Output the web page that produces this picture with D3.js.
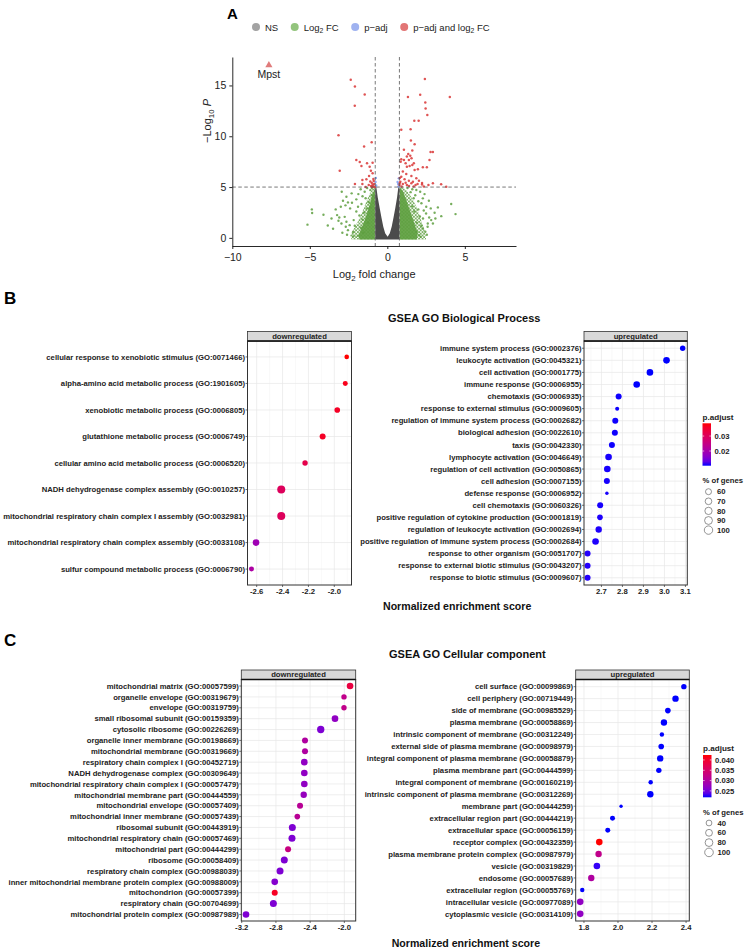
<!DOCTYPE html>
<html><head><meta charset="utf-8">
<script src="https://cdn.jsdelivr.net/npm/d3@7"></script>
<style>body{margin:0;background:#fff;} svg{display:block;}</style>
</head><body><svg id="c" width="746" height="948"></svg>
<script>
// ---------------- DATA ----------------
// Panel A: volcano plot (log2FC, -log10 P)
const volcanoXTicks = [-10, -5, 0, 5];
const volcanoYTicks = [0, 5, 10, 15];
const fcCut = 0.78, pCut = 5;
const highlightGene = {label: "Mpst", x: -7.64, y: 17.0};
const legendA = [
  {key: "NS", parts: [["NS"]]},
  {key: "FC", parts: [["Log"], ["2", "sub"], [" FC"]]},
  {key: "P", parts: [["p\u2212adj"]]},
  {key: "FCP", parts: [["p\u2212adj and log"], ["2", "sub"], [" FC"]]}
];
// dense non-significant cloud (outline of the V)
const nsCloud = [[-0.78,-0.15],[-0.78,5.0],[-0.72,5.1],[-0.62,4.0],[-0.5,3.0],[-0.38,2.0],[-0.26,1.1],[-0.14,0.45],[0.02,0.12],[0.16,0.45],[0.28,1.1],[0.4,2.0],[0.52,3.0],[0.63,4.0],[0.72,5.1],[0.78,5.0],[0.78,-0.15]];
// dense fold-change-only clouds: solid cores and stippled outer parts
const fcCoreLeft = [[-0.8,-0.15],[-0.8,4.9],[-0.95,4.3],[-1.15,3.2],[-1.4,2.0],[-1.65,1.0],[-1.85,0.3],[-1.8,-0.15]];
const fcCoreRight = [[0.8,-0.15],[0.8,5.0],[1.0,4.6],[1.25,3.6],[1.5,2.5],[1.75,1.4],[1.95,0.5],[1.9,-0.15]];
const fcCloudLeft = [[-0.8,-0.15],[-0.8,5.0],[-0.95,4.85],[-1.15,4.3],[-1.35,3.6],[-1.6,2.6],[-1.9,1.6],[-2.2,0.8],[-2.4,0.2],[-2.3,-0.15]];
const fcCloudRight = [[0.8,-0.15],[0.8,5.0],[1.0,4.95],[1.3,4.6],[1.6,3.9],[1.9,3.0],[2.1,2.1],[2.3,1.2],[2.45,0.5],[2.5,-0.15]];
const fcPoints = [[-5.15,1.3],[-4.87,2.8],[-4.85,2.45],[-4.12,2.27],[-3.84,1.22],[-3.33,2.8],[-3.0,3.06],[-2.86,3.65],[-2.54,3.49],[-2.28,3.46],[-2.94,4.54],[-2.64,4.05],[-2.3,4.38],[-1.87,4.31],[-2.0,3.79],[-1.72,4.78],[-1.46,4.54],[-3.24,2.24],[-2.75,2.07],[-3.15,1.68],[-2.96,1.42],[-2.64,1.58],[-2.68,1.09],[-2.43,1.25],[-2.21,0.59],[-2.54,0.76],[-2.17,1.75],[-1.89,3.06],[-1.67,3.33],[-1.4,3.9],[-1.3,4.9],[-1.1,4.7],[-2.0,2.6],[-1.8,2.2],[-2.4,2.9],[-3.6,1.9],[-3.5,0.9],[-2.9,0.5],[-2.6,0.3],[-1.9,0.2],[-2.2,0.15],[-1.6,1.8],[-1.3,2.9],[-1.5,2.5],[-1.2,3.5],[-1.0,4.2],[-1.1,3.0],[-1.25,1.5],[-1.7,1.0],[-2.1,1.2],[-1.55,0.5],[-1.0,4.9],[-1.6,4.1],[-2.7,3.2],[-3.1,2.0],
  [2.12,4.54],[2.4,4.31],[2.68,3.65],[3.26,3.0],[4.12,3.33],[4.4,2.34],[3.48,2.14],[3.05,2.47],[2.83,1.75],[2.61,1.42],[2.94,1.42],[2.29,0.93],[2.04,0.27],[2.51,3.06],[2.29,3.89],[1.87,4.71],[1.61,4.78],[2.2,3.4],[2.0,2.8],[2.5,2.4],[2.7,2.0],[2.3,1.9],[2.2,1.2],[2.45,0.6],[1.9,0.6],[2.6,1.1],[1.8,4.2],[2.0,3.6],[1.7,3.9],[1.5,4.5],[1.3,4.9],[2.35,2.7],[2.8,2.9],[3.1,1.9],[1.9,1.5],[2.1,2.1],[2.55,0.3],[2.15,0.1],[1.6,3.1],[1.75,2.6]];
const pPoints = [[-0.76,5.5],[-0.72,5.15],[-0.74,5.9],[0.74,5.86],[0.7,5.3],[0.72,5.05],[0.66,5.5]];
const sigPoints = [[-2.36,15.55],[-2.09,14.9],[-1.46,14.1],[-2.1,13.0],[-3.15,10.1],[-1.01,9.4],[-1.5,9.0],[-2.0,7.67],[-1.78,7.47],[-1.67,7.08],[-1.31,7.34],[-0.95,7.4],[-1.14,7.0],[-3.07,6.6],[-1.06,6.6],[-1.18,6.1],[-0.95,6.36],[-1.61,5.7],[-1.35,5.76],[-2.09,5.3],[-1.61,5.3],[-0.9,5.05],[-0.95,5.2],[-1.0,5.4],[-1.05,5.1],[-0.88,5.6],[-1.1,5.55],[-0.85,5.3],[-0.82,5.0],[-0.9,5.8],[-1.2,5.2],[-1.4,5.0],[-0.98,5.0],
  [2.42,15.64],[1.33,13.86],[2.12,14.09],[4.03,13.86],[2.45,13.33],[2.47,12.74],[2.58,12.1],[1.74,11.52],[2.02,11.52],[0.9,10.63],[1.5,10.7],[1.52,9.58],[1.76,9.22],[2.79,8.46],[2.94,8.46],[1.61,8.59],[1.07,8.66],[2.29,6.95],[2.55,6.95],[2.94,5.37],[3.47,5.27],[3.8,5.03],[2.24,5.25],[2.65,5.2],
  [1.35,8.26],[1.48,8.07],[1.26,8.0],[1.56,7.84],[0.9,7.74],[1.07,7.67],[1.39,7.67],[0.86,7.5],[1.18,7.34],[1.71,7.34],[2.72,7.67],[1.97,6.75],[1.76,6.68],[1.26,7.0],[1.44,7.08],[1.61,7.18],
  [1.0,6.52],[1.22,6.29],[1.55,6.09],[1.87,5.86],[0.9,6.02],[1.11,5.76],[1.39,5.63],[1.65,5.53],[2.04,5.63],[0.84,5.53],[1.0,5.3],[1.26,5.2],[1.55,5.37],[1.82,5.2],[0.79,5.2],[0.92,5.05],[1.18,5.43],[1.4,5.1],[1.95,5.3],[2.24,5.4],[2.35,5.05],[1.7,5.05],[0.8,5.4],[0.8,5.9]];

// Panel B: GSEA GO Biological Process
const bpDownTerms = ["cellular response to xenobiotic stimulus (GO:0071466)","alpha-amino acid metabolic process (GO:1901605)","xenobiotic metabolic process (GO:0006805)","glutathione metabolic process (GO:0006749)","cellular amino acid metabolic process (GO:0006520)","NADH dehydrogenase complex assembly (GO:0010257)","mitochondrial respiratory chain complex I assembly (GO:0032981)","mitochondrial respiratory chain complex assembly (GO:0033108)","sulfur compound metabolic process (GO:0006790)"];
const bpDownNES = [-1.904,-1.915,-1.977,-2.09,-2.226,-2.41,-2.41,-2.605,-2.64];
const bpDownPct = [43,47,55,60,52,93,93,69,47];
const bpDownPadj = [0.0385,0.037,0.036,0.036,0.032,0.030,0.030,0.019,0.021];
const bpDownTicks = [-2.6,-2.4,-2.2,-2.0];

const bpUpTerms = ["immune system process (GO:0002376)","leukocyte activation (GO:0045321)","cell activation (GO:0001775)","immune response (GO:0006955)","chemotaxis (GO:0006935)","response to external stimulus (GO:0009605)","regulation of immune system process (GO:0002682)","biological adhesion (GO:0022610)","taxis (GO:0042330)","lymphocyte activation (GO:0046649)","regulation of cell activation (GO:0050865)","cell adhesion (GO:0007155)","defense response (GO:0006952)","cell chemotaxis (GO:0060326)","positive regulation of cytokine production (GO:0001819)","regulation of leukocyte activation (GO:0002694)","positive regulation of immune system process (GO:0002684)","response to other organism (GO:0051707)","response to external biotic stimulus (GO:0043207)","response to biotic stimulus (GO:0009607)"];
const bpUpNES = [3.087,3.01,2.931,2.868,2.782,2.775,2.766,2.764,2.75,2.734,2.728,2.726,2.726,2.694,2.693,2.687,2.672,2.634,2.634,2.634];
const bpUpPct = [52,69,69,69,60,37,60,60,60,69,69,60,32,60,55,66,69,60,60,60];
const bpUpPadj = [0.0102,0.0102,0.0102,0.0102,0.0103,0.0103,0.0103,0.0103,0.0103,0.0104,0.0104,0.0104,0.0104,0.0104,0.0105,0.0105,0.0105,0.0106,0.0106,0.0106];
const bpUpTicks = [2.7,2.8,2.9,3.0,3.1];
const bpPadjBreaks = [0.02, 0.03];
const bpPctBreaks = [60,70,80,90,100];

// Panel C: GSEA GO Cellular component
const ccDownTerms = ["mitochondrial matrix (GO:00057599)","organelle envelope (GO:00319679)","envelope (GO:00319759)","small ribosomal subunit (GO:00159359)","cytosolic ribosome (GO:00226269)","organelle inner membrane (GO:00198669)","mitochondrial membrane (GO:00319669)","respiratory chain complex I (GO:00452719)","NADH dehydrogenase complex (GO:00309649)","mitochondrial respiratory chain complex I (GO:00057479)","mitochondrial membrane part (GO:00444559)","mitochondrial envelope (GO:00057409)","mitochondrial inner membrane (GO:00057439)","ribosomal subunit (GO:00443919)","mitochondrial respiratory chain (GO:00057469)","mitochondrial part (GO:00444299)","ribosome (GO:00058409)","respiratory chain complex (GO:00988039)","inner mitochondrial membrane protein complex (GO:00988009)","mitochondrion (GO:00057399)","respiratory chain (GO:00704699)","mitochondrial protein complex (GO:00987989)"];
const ccDownNES = [-1.933,-2.004,-2.004,-2.109,-2.276,-2.46,-2.46,-2.468,-2.468,-2.468,-2.475,-2.518,-2.55,-2.608,-2.612,-2.658,-2.702,-2.752,-2.814,-2.814,-2.83,-3.15];
const ccDownPct = [55,33,33,55,71,44,44,55,55,55,51,44,37,63,63,44,63,63,55,44,63,55];
const ccDownPadj = [0.0385,0.032,0.032,0.027,0.0256,0.030,0.030,0.027,0.027,0.027,0.0275,0.031,0.031,0.0256,0.0256,0.033,0.0256,0.0256,0.026,0.0408,0.0256,0.0256];
const ccDownTicks = [-3.2,-2.8,-2.4,-2.0];

const ccUpTerms = ["cell surface (GO:00099869)","cell periphery (GO:00719449)","side of membrane (GO:00985529)","plasma membrane (GO:00058869)","intrinsic component of membrane (GO:00312249)","external side of plasma membrane (GO:00098979)","integral component of plasma membrane (GO:00058879)","plasma membrane part (GO:00444599)","integral component of membrane (GO:00160219)","intrinsic component of plasma membrane (GO:00312269)","membrane part (GO:00444259)","extracellular region part (GO:00444219)","extracellular space (GO:00056159)","receptor complex (GO:00432359)","plasma membrane protein complex (GO:00987979)","vesicle (GO:00319829)","endosome (GO:00057689)","extracellular region (GO:00055769)","intracellular vesicle (GO:00977089)","cytoplasmic vesicle (GO:00314109)"];
const ccUpNES = [2.387,2.338,2.293,2.27,2.258,2.254,2.248,2.24,2.192,2.19,2.018,1.968,1.94,1.89,1.886,1.876,1.843,1.79,1.778,1.778];
const ccUpPct = [33,51,37,51,19,37,51,33,19,51,7,27,27,55,51,55,51,19,55,55];
const ccUpPadj = [0.0219,0.0219,0.0219,0.0219,0.0219,0.0219,0.0219,0.0219,0.0219,0.0219,0.0219,0.0219,0.0219,0.0424,0.032,0.0225,0.030,0.0219,0.027,0.027];
const ccUpTicks = [1.8,2.0,2.2,2.4];
const ccPadjBreaks = [0.025,0.030,0.035,0.040];
const ccPctBreaks = [40,60,80,100];

// ---------------- DRAW ----------------
const FONT = '"Liberation Sans", Arial, Helvetica, sans-serif';
const FS = 7.7; // facet text size
const svg = d3.select("#c").style("font-family", FONT);
svg.append("rect").attr("width", 746).attr("height", 948).attr("fill", "#fff");
const defs = svg.append("defs");

function rich(sel, parts, fs) {
  let shifted = 0;
  parts.forEach(p => {
    const t = sel.append("tspan").text(p[0]);
    if (p[1] === "sub") { t.attr("font-size", fs * 0.72).attr("dy", fs * 0.28); shifted = fs * 0.28; }
    else if (shifted) { t.attr("dy", -shifted); shifted = 0; }
    if (p[1] === "it") t.attr("font-style", "italic");
  });
  return sel;
}

// ===== Panel A =====
const gA = svg.append("g");
gA.append("text").attr("x", 227).attr("y", 19).attr("font-size", 15).attr("font-weight", "bold").text("A");

const xA = d3.scaleLinear().domain([-10, 8.3]).range([232.3, 516]);
const yA = d3.scaleLinear().domain([-0.8, 17.8]).range([246, 57]);
const lineA = d3.line().x(d => xA(d[0])).y(d => yA(d[1])).curve(d3.curveLinearClosed);

const colNS = "#4b4b4b", colFC = "#5e9f40", colP = "#7f9ef0", colSig = "#d93636";
const pat = defs.append("pattern").attr("id", "stipple").attr("patternUnits", "userSpaceOnUse").attr("width", 3.4).attr("height", 3.4);
pat.append("circle").attr("cx", 0.9).attr("cy", 0.9).attr("r", 1.05).attr("fill", colFC).attr("opacity", 0.85);
pat.append("circle").attr("cx", 2.6).attr("cy", 2.6).attr("r", 1.05).attr("fill", colFC).attr("opacity", 0.85);
[fcCloudLeft, fcCloudRight].forEach(c => gA.append("path").attr("d", lineA(c)).attr("fill", "url(#stipple)"));
[fcCoreLeft, fcCoreRight].forEach(c => gA.append("path").attr("d", lineA(c)).attr("fill", colFC).attr("opacity", 0.92));
gA.append("path").attr("d", lineA(nsCloud)).attr("fill", colNS);
gA.append("g").selectAll("circle").data(fcPoints).join("circle")
  .attr("cx", d => xA(d[0])).attr("cy", d => yA(d[1])).attr("r", 1.2).attr("fill", colFC).attr("opacity", 0.85);
gA.append("g").selectAll("circle").data(pPoints).join("circle")
  .attr("cx", d => xA(d[0])).attr("cy", d => yA(d[1])).attr("r", 1.2).attr("fill", colP).attr("opacity", 0.9);
gA.append("g").selectAll("circle").data(sigPoints).join("circle")
  .attr("cx", d => xA(d[0])).attr("cy", d => yA(d[1])).attr("r", 1.25).attr("fill", colSig).attr("opacity", 0.85);

// cut-off lines
const dash = gA.append("g").attr("stroke", "#555").attr("stroke-width", 0.8).attr("stroke-dasharray", "3.5,2.5");
[-fcCut, fcCut].forEach(v => dash.append("line").attr("x1", xA(v)).attr("x2", xA(v)).attr("y1", yA.range()[1]).attr("y2", yA.range()[0]));
dash.append("line").attr("x1", xA.range()[0]).attr("x2", xA.range()[1]).attr("y1", yA(pCut)).attr("y2", yA(pCut));

// highlighted gene
gA.append("path").attr("d", d3.symbol(d3.symbolTriangle, 22)())
  .attr("transform", `translate(${xA(highlightGene.x)},${yA(highlightGene.y)})`).attr("fill", "#e07b7b");
gA.append("text").attr("x", xA(highlightGene.x)).attr("y", yA(highlightGene.y) + 13).attr("text-anchor", "middle")
  .attr("font-size", 10.5).attr("fill", "#222").text(highlightGene.label);

// axes
const axL = gA.append("g").attr("transform", `translate(${xA.range()[0]},0)`)
  .call(d3.axisLeft(yA).tickValues(volcanoYTicks).tickSize(3).tickSizeOuter(0));
const axB = gA.append("g").attr("transform", `translate(0,${yA.range()[0]})`)
  .call(d3.axisBottom(xA).tickValues(volcanoXTicks).tickSize(3).tickSizeOuter(0));
[axL, axB].forEach(a => {
  a.select(".domain").attr("stroke", "#111").attr("stroke-width", 0.9);
  a.selectAll(".tick line").attr("stroke", "#111").attr("stroke-width", 0.9);
  a.selectAll(".tick text").attr("font-size", 10.5).attr("fill", "#222").attr("font-family", FONT);
});
axB.selectAll(".tick text").attr("dy", "0.9em");
rich(gA.append("text").attr("x", (xA.range()[0] + xA.range()[1]) / 2).attr("y", 278).attr("text-anchor", "middle")
  .attr("font-size", 11).attr("fill", "#222"), [["Log"], ["2", "sub"], [" fold change"]], 11);
rich(gA.append("text").attr("transform", "translate(211,121) rotate(-90)").attr("text-anchor", "middle")
  .attr("font-size", 11).attr("fill", "#222"), [["\u2212Log"], ["10", "sub"], [" "], ["P", "it"]], 11);

// legend A
const legCol = {NS: "#a3a3a3", FC: "#93c47d", P: "#9fb2f0", FCP: "#e27575"};
let lx = 256;
legendA.forEach(it => {
  gA.append("circle").attr("cx", lx).attr("cy", 27).attr("r", 4).attr("fill", legCol[it.key]);
  const t = rich(gA.append("text").attr("x", lx + 9).attr("y", 30.5).attr("font-size", 9.5).attr("fill", "#222"), it.parts, 9.5);
  lx += 9 + t.node().getComputedTextLength() + 16.5;
});

// ===== Dot-plot facets =====
function facet(cfg) {
  const g = svg.append("g");
  const [x0, x1] = cfg.xRange;
  const x = d3.scaleLinear().domain(cfg.xDomain).range(cfg.xRange);
  const y = d3.scalePoint().domain(cfg.terms).range([cfg.top, cfg.bottom]).padding(0.6);
  const step = cfg.ticks[1] - cfg.ticks[0];
  const minor = [cfg.ticks[0] - step / 2].concat(cfg.ticks.map(t => t + step / 2))
    .filter(v => v > cfg.xDomain[0] && v < cfg.xDomain[1]);
  g.append("g").selectAll("line").data(minor).join("line")
    .attr("x1", d => x(d)).attr("x2", d => x(d)).attr("y1", cfg.top).attr("y2", cfg.bottom)
    .attr("stroke", "#f3f3f3").attr("stroke-width", 0.5);
  g.append("g").selectAll("line").data(cfg.ticks).join("line")
    .attr("x1", d => x(d)).attr("x2", d => x(d)).attr("y1", cfg.top).attr("y2", cfg.bottom)
    .attr("stroke", "#e6e6e6").attr("stroke-width", 0.7);
  g.append("g").selectAll("line").data(cfg.terms).join("line")
    .attr("x1", x0).attr("x2", x1).attr("y1", d => y(d)).attr("y2", d => y(d))
    .attr("stroke", "#e6e6e6").attr("stroke-width", 0.7);
  const rows = cfg.terms.map((t, i) => ({t, nes: cfg.nes[i], pct: cfg.pct[i], padj: cfg.padj[i]}));
  g.append("g").selectAll("circle").data(rows).join("circle")
    .attr("cx", d => x(d.nes)).attr("cy", d => y(d.t)).attr("r", d => cfg.size(d.pct))
    .attr("fill", d => cfg.color(d.padj));
  g.append("rect").attr("x", x0).attr("y", cfg.top).attr("width", x1 - x0).attr("height", cfg.bottom - cfg.top)
    .attr("fill", "none").attr("stroke", "#333").attr("stroke-width", 1);
  // strip
  g.append("rect").attr("x", x0).attr("y", cfg.stripTop).attr("width", x1 - x0).attr("height", cfg.top - cfg.stripTop)
    .attr("fill", "#d9d9d9").attr("stroke", "#333").attr("stroke-width", 0.8);
  g.append("line").attr("x1", x0).attr("x2", x1).attr("y1", cfg.top).attr("y2", cfg.top).attr("stroke", "#111").attr("stroke-width", 1.6);
  g.append("text").attr("x", (x0 + x1) / 2).attr("y", cfg.stripTop + 7.2).attr("text-anchor", "middle")
    .attr("font-size", FS).attr("font-weight", "bold").attr("fill", "#222").text(cfg.strip);
  // y ticks + labels
  g.append("g").selectAll("line").data(cfg.terms).join("line")
    .attr("x1", x0 - 2).attr("x2", x0).attr("y1", d => y(d)).attr("y2", d => y(d)).attr("stroke", "#333").attr("stroke-width", 0.7);
  g.append("g").selectAll("text").data(cfg.terms).join("text")
    .attr("x", x0 - 2.5).attr("y", d => y(d)).attr("dy", "0.35em").attr("text-anchor", "end")
    .attr("font-size", FS).attr("font-weight", "bold").attr("fill", "#222").text(d => d);
  // x ticks + labels
  g.append("g").selectAll("line").data(cfg.ticks).join("line")
    .attr("x1", d => x(d)).attr("x2", d => x(d)).attr("y1", cfg.bottom).attr("y2", cfg.bottom + 2).attr("stroke", "#333").attr("stroke-width", 0.7);
  g.append("g").selectAll("text").data(cfg.ticks).join("text")
    .attr("x", d => x(d)).attr("y", cfg.bottom + 8.8).attr("text-anchor", "middle")
    .attr("font-size", FS).attr("font-weight", "bold").attr("fill", "#222").text(d => d.toFixed(1));
}

function legendBlock(cfg) {
  const g = svg.append("g");
  g.append("text").attr("x", cfg.x).attr("y", cfg.titleY).attr("font-size", 8.1).attr("font-weight", "bold").attr("fill", "#222").text("p.adjust");
  const id = "grad" + cfg.id;
  const grad = defs.append("linearGradient").attr("id", id).attr("x1", 0).attr("x2", 0).attr("y1", 1).attr("y2", 0);
  d3.range(0, 1.001, 0.1).forEach(t => grad.append("stop").attr("offset", t)
    .attr("stop-color", cfg.color(cfg.color.domain()[0] + t * (cfg.color.domain()[1] - cfg.color.domain()[0]))));
  const yb = d3.scaleLinear().domain(cfg.color.domain()).range([cfg.barBottom, cfg.barTop]);
  g.append("rect").attr("x", cfg.x).attr("y", cfg.barTop).attr("width", 8.5).attr("height", cfg.barBottom - cfg.barTop).attr("fill", `url(#${id})`);
  cfg.padjBreaks.forEach(b => {
    g.append("line").attr("x1", cfg.x).attr("x2", cfg.x + 1.7).attr("y1", yb(b)).attr("y2", yb(b)).attr("stroke", "#fff").attr("stroke-width", 0.6);
    g.append("line").attr("x1", cfg.x + 6.8).attr("x2", cfg.x + 8.5).attr("y1", yb(b)).attr("y2", yb(b)).attr("stroke", "#fff").attr("stroke-width", 0.6);
    g.append("text").attr("x", cfg.x + 12).attr("y", yb(b)).attr("dy", "0.35em").attr("font-size", FS).attr("font-weight", "bold").attr("fill", "#222")
      .text(cfg.padjFmt(b));
  });
  g.append("text").attr("x", cfg.x).attr("y", cfg.sizeTitleY).attr("font-size", 7.7).attr("font-weight", "bold").attr("fill", "#222").text("% of genes");
  cfg.pctBreaks.forEach((b, i) => {
    const cy = cfg.sizeY0 + i * cfg.sizeStep;
    g.append("circle").attr("cx", cfg.x + 6).attr("cy", cy).attr("r", cfg.size(b)).attr("fill", "#fff").attr("stroke", "#666").attr("stroke-width", 0.7);
    g.append("text").attr("x", cfg.x + 14.5).attr("y", cy).attr("dy", "0.35em").attr("font-size", FS).attr("font-weight", "bold").attr("fill", "#222").text(b);
  });
}

// ===== Panel B =====
svg.append("text").attr("x", 4).attr("y", 304).attr("font-size", 17).attr("font-weight", "bold").text("B");
svg.append("text").attr("x", 388).attr("y", 321.5).attr("font-size", 11).attr("font-weight", "bold").attr("fill", "#111").text("GSEA GO Biological Process");
svg.append("text").attr("x", 383).attr("y", 609.5).attr("font-size", 10.6).attr("font-weight", "bold").attr("fill", "#111").text("Normalized enrichment score");

const colB = d3.scaleLinear().domain([0.0102, 0.0385]).range(["blue", "red"]).interpolate(d3.interpolateLab);
const areaB = d3.scaleLinear().domain([20, 100]).range([0.4, 17.64]);
const sizeB = v => Math.sqrt(areaB(v));
facet({terms: bpDownTerms, nes: bpDownNES, pct: bpDownPct, padj: bpDownPadj, ticks: bpDownTicks,
  xDomain: [-2.671, -1.867], xRange: [247.5, 351.5], top: 341, bottom: 585, stripTop: 331.5,
  strip: "downregulated", color: colB, size: sizeB});
facet({terms: bpUpTerms, nes: bpUpNES, pct: bpUpPct, padj: bpUpPadj, ticks: bpUpTicks,
  xDomain: [2.617, 3.109], xRange: [584, 687.3], top: 341, bottom: 585, stripTop: 331.5,
  strip: "upregulated", color: colB, size: sizeB});
legendBlock({id: "B", x: 702.5, titleY: 419.5, barTop: 423.3, barBottom: 465.7, color: colB, padjBreaks: bpPadjBreaks,
  padjFmt: d => d.toFixed(2), sizeTitleY: 483, sizeY0: 491.7, sizeStep: 9.6, pctBreaks: bpPctBreaks, size: sizeB});

// ===== Panel C =====
svg.append("text").attr("x", 4).attr("y", 646).attr("font-size", 17).attr("font-weight", "bold").text("C");
svg.append("text").attr("x", 389).attr("y", 658).attr("font-size", 11).attr("font-weight", "bold").attr("fill", "#111").text("GSEA GO Cellular component");
svg.append("text").attr("x", 391.7).attr("y", 946.5).attr("font-size", 10.6).attr("font-weight", "bold").attr("fill", "#111").text("Normalized enrichment score");

const colC = d3.scaleLinear().domain([0.0219, 0.0424]).range(["blue", "red"]).interpolate(d3.interpolateLab);
const areaC = d3.scaleLinear().domain([0, 100]).range([1.69, 18.49]);
const sizeC = v => Math.sqrt(areaC(v));
facet({terms: ccDownTerms, nes: ccDownNES, pct: ccDownPct, padj: ccDownPadj, ticks: ccDownTicks,
  xDomain: [-3.205, -1.867], xRange: [241.3, 355.7], top: 679.5, bottom: 921, stripTop: 670,
  strip: "downregulated", color: colC, size: sizeC});
facet({terms: ccUpTerms, nes: ccUpNES, pct: ccUpPct, padj: ccUpPadj, ticks: ccUpTicks,
  xDomain: [1.7515, 2.419], xRange: [575.7, 689.3], top: 679.5, bottom: 921, stripTop: 670,
  strip: "upregulated", color: colC, size: sizeC});
legendBlock({id: "C", x: 703, titleY: 751, barTop: 755, barBottom: 797.3, color: colC, padjBreaks: ccPadjBreaks,
  padjFmt: d => d.toFixed(3), sizeTitleY: 815, sizeY0: 823, sizeStep: 9.8, pctBreaks: ccPctBreaks, size: sizeC});
</script></body></html>
